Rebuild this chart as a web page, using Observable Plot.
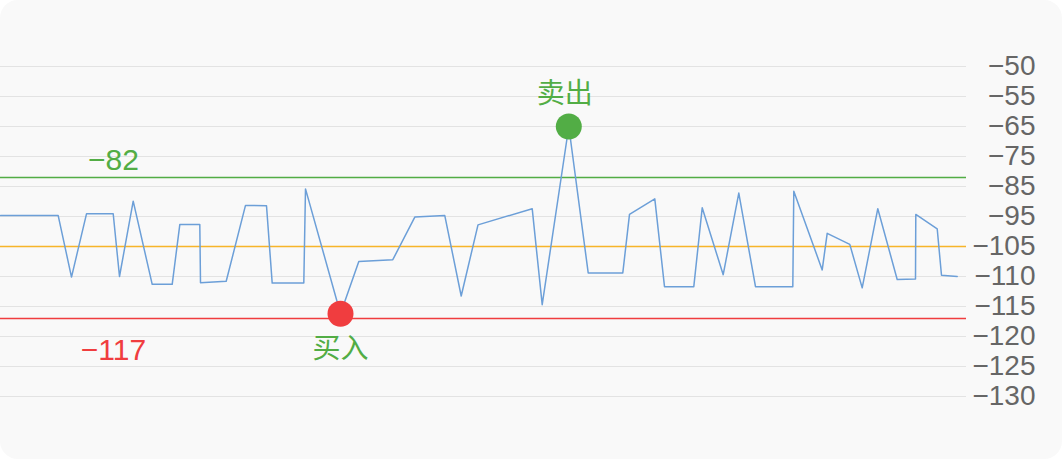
<!DOCTYPE html>
<html>
<head>
<meta charset="utf-8">
<script src="https://cdn.jsdelivr.net/npm/d3@7"></script>
<script src="https://cdn.jsdelivr.net/npm/@observablehq/plot@0.6"></script>
<style>
  html, body { margin: 0; padding: 0; background: #ffffff; }
  #chart { width: 1062px; height: 459px; background: #f9f9f9; border-radius: 18px; overflow: hidden; }
  #chart svg { display: block; }
</style>
</head>
<body>
<div id="chart"></div>
<script>
// time positions of samples (arbitrary units along the x axis)
const times = [0, 57.7, 71, 86, 112.7, 119, 132.7, 151.7, 171.7, 179.3, 199.3, 200, 225.7, 245, 266, 271.7, 303.3, 305, 340, 358.3,
  392.3, 414.3, 444.3, 460.7, 477.5, 531.7, 541.7, 568.3, 587.7, 622.3, 629, 654.3, 664, 693.3, 701.7, 722.7, 738.3, 755, 792.3, 793.3,
  821.7, 826.7, 849.3, 861.7, 877.3, 896.7, 915, 915.3, 936.7, 941, 956.7];
// signal values
const values = [-94.7, -94.7, -110.1, -94.1, -94.1, -110, -89.9, -111.3, -111.3, -97.7, -97.7, -111.05, -110.8, -91.3, -91.4, -111.1, -111.1, -85.8, -116.2, -107.5,
  -107.2, -95.2, -94.7, -113.25, -97.8, -92.4, -114.7, -65, -109.4, -109.4, -94.3, -89.1, -111.7, -111.7, -92.1, -109.7, -87.2, -111.7, -111.7, -86.6,
  -108.9, -100.6, -104.3, -111.9, -92.4, -110.5, -110.4, -94.3, -99.1, -109.8, -110];
const xDomain = [0, 966];
const yTicks = [-50, -55, -65, -75, -85, -95, -105, -110, -115, -120, -125, -130];
const sellLine = -82;
const midLine = -105;
const buyLine = -117;
const buyIndex = 18;
const sellIndex = 27;
const buyLabel = "买入";
const sellLabel = "卖出";

const data = times.map((t, i) => ({t, v: values[i]}));
const buy = [data[buyIndex]];
const sell = [data[sellIndex]];

const W = 1062, H = 459, mT = 66, mB = 63, mL = 0, mR = 96;
const yRange = yTicks.map((_, i) => mT + (H - mB - mT) * i / (yTicks.length - 1));
const fmt = d3.format("d");

const green = "#52ad45", red = "#f03d3f", yellow = "#f7b52a", blue = "#6c9fd8";

const chart = Plot.plot({
  width: W, height: H,
  marginTop: mT, marginBottom: mB, marginLeft: mL, marginRight: mR,
  style: {background: "transparent", fontFamily: "'Liberation Sans', 'Noto Sans CJK SC', sans-serif", overflow: "visible"},
  x: {domain: xDomain, axis: null},
  y: {type: "linear", domain: yTicks, range: yRange, axis: null},
  marks: [
    Plot.gridY(yTicks, {stroke: "#e3e3e3", strokeOpacity: 1, strokeWidth: 1.2}),
    Plot.axisY(yTicks, {anchor: "right", label: null, tickSize: 0, tickPadding: 0, dx: 69, textAnchor: "end",
      fontSize: 28, fill: "#666666", tickFormat: fmt}),
    Plot.ruleY([midLine], {stroke: yellow, strokeWidth: 1.5}),
    Plot.ruleY([sellLine], {stroke: green, strokeWidth: 1.5}),
    Plot.ruleY([buyLine], {stroke: red, strokeWidth: 1.5}),
    Plot.text([sellLine], {y: d => d, text: d => fmt(d), frameAnchor: "left", dx: 113, dy: -17,
      textAnchor: "middle", fill: green, fontSize: 30}),
    Plot.text([buyLine], {y: d => d, text: d => fmt(d), frameAnchor: "left", dx: 113, dy: 32,
      textAnchor: "middle", fill: red, fontSize: 30}),
    Plot.line(data, {x: "t", y: "v", stroke: blue, strokeWidth: 1.5}),
    Plot.dot(buy, {x: "t", y: "v", r: 13, fill: red}),
    Plot.dot(sell, {x: "t", y: "v", r: 13, fill: green}),
    Plot.text(buy, {x: "t", y: "v", text: () => buyLabel, dy: 35, fill: green, fontSize: 28,
      fontFamily: "'Noto Sans CJK SC', sans-serif"}),
    Plot.text(sell, {x: "t", y: "v", text: () => sellLabel, dx: -4, dy: -32, fill: green, fontSize: 28,
      fontFamily: "'Noto Sans CJK SC', sans-serif"})
  ]
});
document.getElementById("chart").appendChild(chart);
</script>
</body>
</html>
